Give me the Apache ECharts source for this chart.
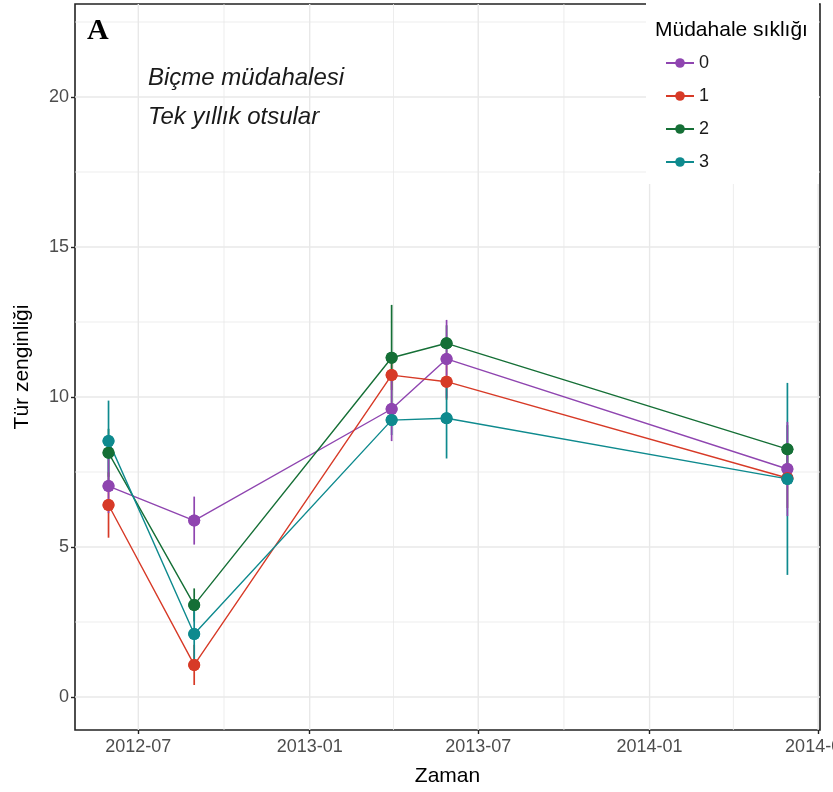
<!DOCTYPE html>
<html>
<head>
<meta charset="utf-8">
<script src="https://cdn.jsdelivr.net/npm/echarts@6/dist/echarts.min.js"></script>
<style>
  html, body { margin: 0; padding: 0; background: #ffffff; }
  #chart { width: 833px; height: 792px; }
</style>
</head>
<body>
<div id="chart"></div>
<script>
// Sampling dates and mean species richness per mowing frequency
const sampleDates = ['2012-05-30', '2012-08-30', '2013-03-30', '2013-05-28', '2014-05-29'];
const groupNames = ['0', '1', '2', '3'];
const richness0 = [7.03, 5.88, 9.60, 11.27, 7.60];
const richness1 = [6.40, 1.07, 10.73, 10.51, 7.30];
const richness2 = [8.14, 3.07, 11.31, 11.79, 8.26];
const richness3 = [8.53, 2.10, 9.23, 9.29, 7.27];
// Half-widths of the error bars
const spread0 = [0.90, 0.80, 1.07, 1.30, 1.57];
const spread1 = [1.09, 0.67, 0.50, 0.60, 1.00];
const spread2 = [0.80, 0.55, 1.76, 0.60, 0.80];
const spread3 = [1.35, 0.90, 0.50, 1.34, 3.20];
// Order in which the error bars are stacked at each date (last one on top)
const barOrder = [[2, 1, 3, 0], [0, 1, 2, 3], [1, 3, 2, 0], [2, 1, 0, 3], [1, 2, 3, 0]];

// Axis ticks and ranges
const xTicks = ['2012-07-01', '2013-01-01', '2013-07-01', '2014-01-01', '2014-07-01'];
const xMinorTicks = ['2012-10-01', '2013-04-01', '2013-10-01', '2014-04-01'];
const xRange = ['2012-04-24', '2014-07-03'];
const yTicks = [0, 5, 10, 15, 20];
const yMinorTicks = [2.5, 7.5, 12.5, 17.5, 22.5];
const yRange = [-1.1, 23.1];

const palette = ['#8F45B0', '#D73A27', '#156F36', '#0E8A8E'];
const textFont = '"Liberation Sans", Arial, sans-serif';

// Dates are handled as UTC timestamps on a numeric axis
const toTime = s => Date.parse(s + 'T00:00:00Z');
const monthLabel = v => {
  const d = new Date(v);
  return d.getUTCFullYear() + '-' + String(d.getUTCMonth() + 1).padStart(2, '0');
};
const richness = [richness0, richness1, richness2, richness3];
const spreads = [spread0, spread1, spread2, spread3];
const xMin = toTime(xRange[0]);
const xMax = toTime(xRange[1]);

// Background grid lines
function gridLines(values, vertical, width) {
  return {
    type: 'custom',
    silent: true,
    z: 1,
    clip: false,
    data: values.map(v => vertical ? [toTime(v), yRange[0]] : [xMin, v]),
    renderItem(params, api) {
      const cs = params.coordSys;
      const p = api.coord([api.value(0), api.value(1)]);
      const shape = vertical
        ? { x1: p[0], y1: cs.y, x2: p[0], y2: cs.y + cs.height }
        : { x1: cs.x, y1: p[1], x2: cs.x + cs.width, y2: p[1] };
      return { type: 'line', shape, style: { stroke: '#E8E8E8', lineWidth: width } };
    }
  };
}

// Error bar items, in stacking order
const errorItems = [];
sampleDates.forEach((d, i) => {
  barOrder[i].forEach(g => {
    const m = richness[g][i], s = spreads[g][i];
    errorItems.push([toTime(d), m - s, m + s, g]);
  });
});

const series = [
  gridLines(xMinorTicks, true, 0.8),
  gridLines(yMinorTicks, false, 0.8),
  gridLines(xTicks, true, 1.4),
  gridLines(yTicks, false, 1.4),
  {
    type: 'custom',
    name: 'errors',
    silent: true,
    z: 3,
    data: errorItems,
    encode: { x: 0, y: [1, 2] },
    renderItem(params, api) {
      const t = api.value(0);
      const hi = api.coord([t, api.value(2)]);
      const lo = api.coord([t, api.value(1)]);
      return {
        type: 'line',
        shape: { x1: hi[0], y1: hi[1], x2: lo[0], y2: lo[1] },
        style: { stroke: palette[api.value(3)], lineWidth: 1.7 }
      };
    }
  }
];

groupNames.forEach((name, g) => {
  series.push({
    type: 'line',
    name,
    z: 4,
    symbol: 'circle',
    symbolSize: 12,
    color: palette[g],
    lineStyle: { width: 1.4, color: palette[g] },
    itemStyle: { color: palette[g] },
    emphasis: { disabled: true },
    data: sampleDates.map((d, i) => [toTime(d), richness[g][i]])
  });
});
groupNames.forEach((name, g) => {
  series.push({
    type: 'scatter',
    name: 'pt' + name,
    z: 5,
    symbol: 'circle',
    symbolSize: 12,
    itemStyle: { color: palette[g], opacity: 1 },
    emphasis: { disabled: true },
    data: sampleDates.map((d, i) => [toTime(d), richness[g][i]])
  });
});

const chart = echarts.init(document.getElementById('chart'), null, { renderer: 'canvas' });
chart.setOption({
  backgroundColor: '#ffffff',
  animation: false,
  textStyle: { fontFamily: textFont },
  grid: {
    left: 75, right: 13, top: 4, bottom: 62,
    containLabel: false,
    outerBoundsMode: 'none',
    show: true, borderColor: '#222222', borderWidth: 1.6, backgroundColor: 'transparent'
  },
  xAxis: {
    type: 'value',
    min: xMin,
    max: xMax,
    name: 'Zaman',
    nameLocation: 'middle',
    nameGap: 36,
    nameTextStyle: { fontSize: 21, color: '#000000', fontFamily: textFont },
    axisLine: { show: false, onZero: false },
    splitLine: { show: false },
    axisTick: { show: true, length: 4, lineStyle: { color: '#222222', width: 1.4 }, customValues: xTicks.map(toTime) },
    axisLabel: {
      customValues: xTicks.map(toTime),
      margin: 8,
      fontSize: 18,
      color: '#4D4D4D',
      fontFamily: textFont,
      hideOverlap: false,
      formatter: monthLabel
    }
  },
  yAxis: {
    type: 'value',
    min: yRange[0],
    max: yRange[1],
    name: 'Tür zenginliği',
    nameLocation: 'middle',
    nameGap: 42,
    nameTextStyle: { fontSize: 21, color: '#000000', fontFamily: textFont },
    axisLine: { show: false, onZero: false },
    splitLine: { show: false },
    axisTick: { show: true, length: 4, lineStyle: { color: '#222222', width: 1.4 }, customValues: yTicks },
    axisLabel: { customValues: yTicks, margin: 6, fontSize: 18, color: '#4D4D4D', fontFamily: textFont }
  },
  legend: {
    data: groupNames,
    orient: 'vertical',
    left: 660,
    top: 49,
    z: 20,
    itemWidth: 28,
    itemHeight: 12,
    itemGap: 15,
    selectedMode: false,
    textStyle: { fontSize: 18, color: '#1A1A1A', fontFamily: textFont }
  },
  graphic: [
    { type: 'rect', z: 10, shape: { x: 646, y: 0, width: 173, height: 184 }, style: { fill: '#ffffff' } },
    { type: 'text', z: 21, x: 655, y: 30, style: { text: 'Müdahale sıklığı', font: '21px ' + textFont, fill: '#000000', textVerticalAlign: 'middle' } },
    { type: 'text', z: 21, x: 87, y: 31, style: { text: 'A', font: 'bold 30px "Liberation Serif", "Times New Roman", serif', fill: '#000000', textVerticalAlign: 'middle' } },
    { type: 'text', z: 21, x: 148, y: 78, style: { text: 'Biçme müdahalesi', font: 'italic 24px ' + textFont, fill: '#1A1A1A', textVerticalAlign: 'middle' } },
    { type: 'text', z: 21, x: 148, y: 117, style: { text: 'Tek yıllık otsular', font: 'italic 24px ' + textFont, fill: '#1A1A1A', textVerticalAlign: 'middle' } }
  ],
  series
});
</script>
</body>
</html>
